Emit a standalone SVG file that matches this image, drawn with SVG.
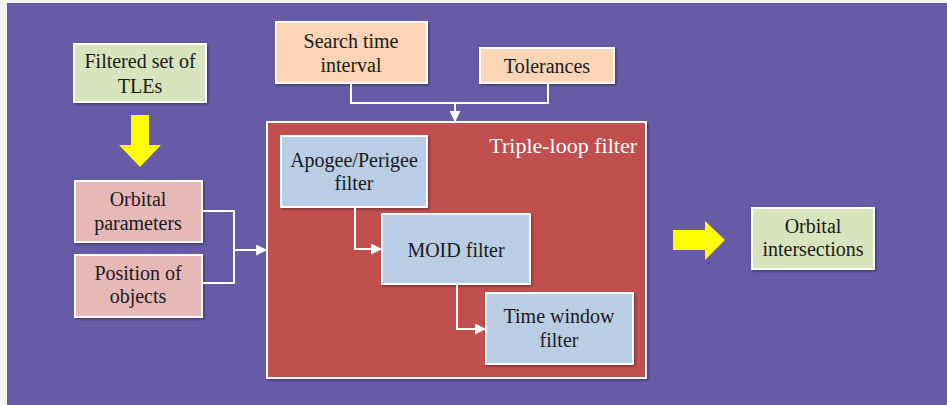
<svg xmlns="http://www.w3.org/2000/svg" width="947" height="405" viewBox="0 0 947 405">
  <style>
    .box { stroke: #ffffff; stroke-width: 2; filter: url(#shadow); }
    .green { fill: #D7E4BD; }
    .peach { fill: #FBD5B5; }
    .pink { fill: #E6B9B8; }
    .blue { fill: #B9CDE5; }
    .red { fill: #C0504D; }
    text { font-family: "Liberation Serif", "DejaVu Serif", "Times New Roman", serif; }
    .label { font-size: 20px; fill: #1a1a1a; text-anchor: middle; }
    .title { font-size: 22px; fill: #ffffff; text-anchor: end; }
    .wire { fill: none; stroke: #ffffff; stroke-width: 2; }
    .bigarrow { fill: #FFFF00; }
  </style>
  <defs>
    <marker id="head" viewBox="0 0 10 10" refX="9" refY="5" markerWidth="5.5" markerHeight="5.5" orient="auto" markerUnits="strokeWidth">
      <path d="M0,0 L10,5 L0,10 z" fill="#ffffff"/>
    </marker>
    <filter id="shadow" x="-10%" y="-10%" width="130%" height="130%">
      <feDropShadow dx="1.5" dy="1.5" stdDeviation="1.2" flood-color="#000000" flood-opacity="0.35"/>
    </filter>
  </defs>

  <!-- page and slide background -->
  <rect x="0" y="0" width="947" height="405" fill="#F4F4F6"/>
  <rect x="7" y="3" width="940" height="402" fill="#675BA7"/>

  <!-- yellow flow arrows -->
  <g id="arrow-down">
    <polygon class="bigarrow" points="131,115 149,115 149,145 161,145 140,167 119,145 131,145"/>
  </g>
  <g id="arrow-right">
    <polygon class="bigarrow" points="673,230 705,230 705,221 725,240 705,260 705,250 673,250"/>
  </g>

  <g id="tles">
    <rect class="box green" x="74" y="44" width="132" height="58"/>
    <text class="label" x="140" y="68">Filtered set of</text>
    <text class="label" x="140" y="93">TLEs</text>
  </g>

  <g id="search-interval">
    <rect class="box peach" x="276" y="22" width="151" height="61"/>
    <text class="label" x="351" y="48">Search time</text>
    <text class="label" x="351" y="72">interval</text>
  </g>

  <g id="tolerances">
    <rect class="box peach" x="480" y="48" width="134" height="35"/>
    <text class="label" x="547" y="73">Tolerances</text>
  </g>

  <g id="orbital-parameters">
    <rect class="box pink" x="75" y="181" width="127" height="61"/>
    <text class="label" x="138" y="206">Orbital</text>
    <text class="label" x="138" y="230">parameters</text>
  </g>

  <g id="position-objects">
    <rect class="box pink" x="75" y="255" width="127" height="62"/>
    <text class="label" x="138" y="280">Position of</text>
    <text class="label" x="138" y="303">objects</text>
  </g>

  <g id="triple-loop">
    <rect class="box red" x="267" y="122" width="379" height="256"/>
    <text class="title" x="637" y="153">Triple-loop filter</text>
  </g>

  <g id="apogee-perigee">
    <rect class="box blue" x="281" y="136" width="146" height="71"/>
    <text class="label" x="354" y="167">Apogee/Perigee</text>
    <text class="label" x="354" y="190">filter</text>
  </g>

  <g id="moid">
    <rect class="box blue" x="382" y="214" width="148" height="70"/>
    <text class="label" x="456" y="257">MOID filter</text>
  </g>

  <g id="time-window">
    <rect class="box blue" x="486" y="293" width="147" height="71"/>
    <text class="label" x="559" y="323">Time window</text>
    <text class="label" x="559" y="347">filter</text>
  </g>

  <g id="intersections">
    <rect class="box green" x="752" y="208" width="122" height="61"/>
    <text class="label" x="813" y="233">Orbital</text>
    <text class="label" x="813" y="256">intersections</text>
  </g>

  <!-- connectors, drawn last so they sit on top of the filter panel -->
  <g id="connectors">
    <path class="wire" d="M351,84 V103 H548 V84"/>
    <path class="wire" d="M455,103 V121" marker-end="url(#head)"/>
    <path class="wire" d="M203,211 H234 V283 H203"/>
    <path class="wire" d="M234,250 H266" marker-end="url(#head)"/>
    <path class="wire" d="M355,208 V249 H381" marker-end="url(#head)"/>
    <path class="wire" d="M457,285 V329 H485" marker-end="url(#head)"/>
  </g>
</svg>
